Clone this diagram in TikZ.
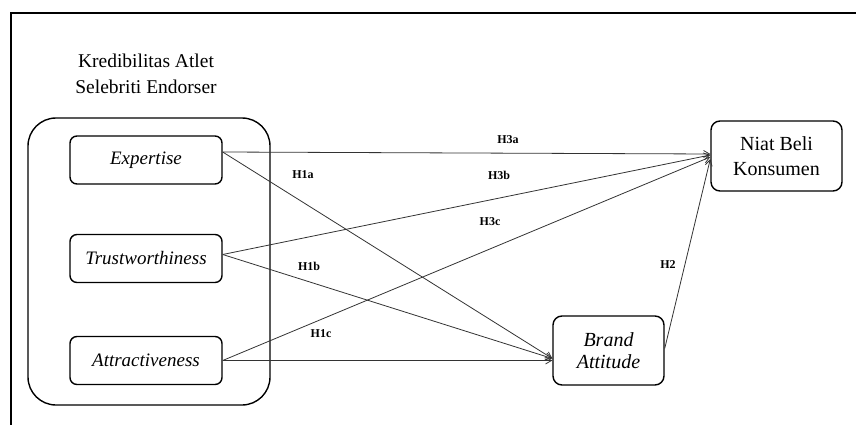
\documentclass[tikz,border=0pt]{standalone}
\usepackage{fontspec}
\setmainfont{Liberation Serif}
\usetikzlibrary{positioning,arrows.meta}

\begin{document}
\begin{tikzpicture}[
    x=1pt, y=-1pt,
    thick,
    box/.style={draw=black, line width=1.4pt, rounded corners=7pt, minimum width=152pt, minimum height=48pt, font=\fontsize{19}{21}\selectfont\itshape},
    tbox/.style={draw=black, line width=1.4pt, rounded corners=9pt, align=center, font=\fontsize{20}{25}\selectfont},
    hyp/.style={font=\fontsize{12}{13}\selectfont\bfseries},
    link/.style={draw=black!80, line width=0.8pt, -{Straight Barb[length=6pt,width=7pt]}}]
    \useasboundingbox (0,0) rectangle (856,425);
    % frame
    \draw[line width=1.6pt] (856,13) -- (11,13) -- (11,425);
    % NODES
    % caption node
    \node[align=center, font=\fontsize{19.5}{26}\selectfont] (Cap) at (146,74) {Kredibilitas Atlet\\Selebriti Endorser};
    % group box
    \draw[line width=1.4pt, rounded corners=28pt] (28,118) rectangle (270,405);
    % node E
    \node[box] (E) at (146,160) {Expertise};
    % node T
    \node[box] (T) at (146,258.5) {Trustworthiness};
    % node A
    \node[box] (A) at (146,360.5) {Attractiveness};
    % node N
    \node[tbox, minimum width=131pt, minimum height=70pt] (N) at (776.5,156) {Niat Beli\\Konsumen};
    % node B
    \node[tbox, minimum width=111pt, minimum height=69pt, font=\fontsize{20}{22}\selectfont\itshape] (B) at (608.5,350.5) {Brand\\Attitude};

    % ARROWS
    \draw[link] ([yshift=8pt]E.east) -- ([yshift=2pt]N.west);
    \draw[link] ([yshift=8pt]E.east) -- ([yshift=-8pt]B.west);
    \draw[link] ([yshift=4pt]T.east) -- ([yshift=1pt]N.west);
    \draw[link] ([yshift=4pt]T.east) -- ([yshift=-8pt]B.west);
    \draw[link] (A.east) -- ([yshift=-1pt]N.west);
    \draw[link] (A.east) -- ([yshift=-10pt]B.west);
    \draw[link] ([yshift=2pt]B.east) -- ([yshift=-3pt]N.west);

    % LABELS
    \node[hyp] (h3a) at (508,140) {H3a};
    \node[hyp] (h1a) at (303,175) {H1a};
    \node[hyp] (h3b) at (499,175) {H3b};
    \node[hyp] (h3c) at (490,222) {H3c};
    \node[hyp] (h1b) at (309,266) {H1b};
    \node[hyp] (h2)  at (668,265) {H2};
    \node[hyp] (h1c) at (321,334) {H1c};
\end{tikzpicture}
\end{document}
